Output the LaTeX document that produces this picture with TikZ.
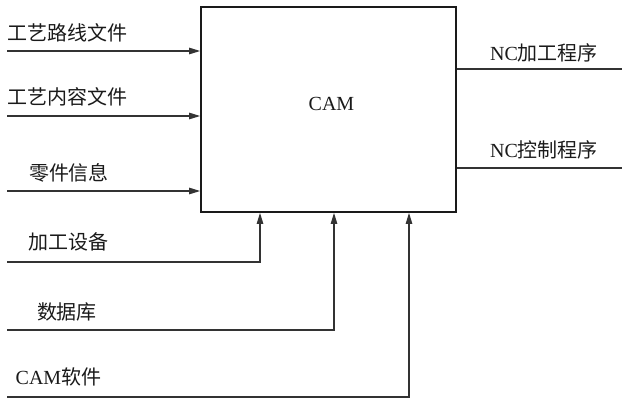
\documentclass[tikz,border=0pt]{standalone}
\usepackage{fontspec}
\setmainfont{Liberation Serif}
\newfontfamily\cjk{Noto Sans CJK SC}
\usetikzlibrary{positioning,arrows.meta}
\definecolor{ink}{HTML}{1A1A1A}
\definecolor{wire}{HTML}{333333}
\newcommand{\zh}[1]{{\cjk #1}}
\tikzset{
  blk/.style={draw=ink,line width=1.8pt,minimum width=255pt,minimum height=205pt,inner sep=0pt},
  lab/.style={font=\fontsize{20}{22}\selectfont,inner sep=1pt,text=ink},
  arr/.style={-{Triangle[length=11pt,width=6.5pt]},line width=1.1pt,wire},
  ln/.style={line width=1.1pt,wire},
}
\begin{document}
\begin{tikzpicture}[x=1pt,y=-1pt]
\useasboundingbox (0,0) rectangle (622,399);
% central block
\node[blk] (cam) at (328.5,109.5) {};
\node[lab,font=\fontsize{20}{22}\selectfont] (camtxt) at (331.5,104) {CAM};
% inputs from the left
\coordinate (i1) at (7,51);
\coordinate (i2) at (7,116);
\coordinate (i3) at (7,191);
\node[lab] (t1) at (67.5,33) {\zh{工艺路线文件}};
\node[lab] (t2) at (67.5,97) {\zh{工艺内容文件}};
\node[lab] (t3) at (69,173) {\zh{零件信息}};
\draw[arr] (i1) -- (i1 -| cam.west);
\draw[arr] (i2) -- (i2 -| cam.west);
\draw[arr] (i3) -- (i3 -| cam.west);
% mechanisms from below
\coordinate (m1) at (7,262);
\coordinate (m2) at (7,330);
\coordinate (m3) at (7,397);
\coordinate (k1) at (260,262);
\coordinate (k2) at (334,330);
\coordinate (k3) at (409,397);
\node[lab] (t4) at (68.5,242) {\zh{加工设备}};
\node[lab] (t5) at (67,312) {\zh{数据库}};
\node[lab] (t6) at (58.5,377) {CAM\zh{软件}};
\draw[arr] (m1) -- (k1) -- (k1 |- cam.south);
\draw[arr] (m2) -- (k2) -- (k2 |- cam.south);
\draw[arr] (m3) -- (k3) -- (k3 |- cam.south);
% outputs to the right
\coordinate (o1) at (622,69);
\coordinate (o2) at (622,168);
\node[lab] (t7) at (544,53) {NC\zh{加工程序}};
\node[lab] (t8) at (544,150) {NC\zh{控制程序}};
\draw[ln] (o1 -| cam.east) -- (o1);
\draw[ln] (o2 -| cam.east) -- (o2);
\end{tikzpicture}
\end{document}
